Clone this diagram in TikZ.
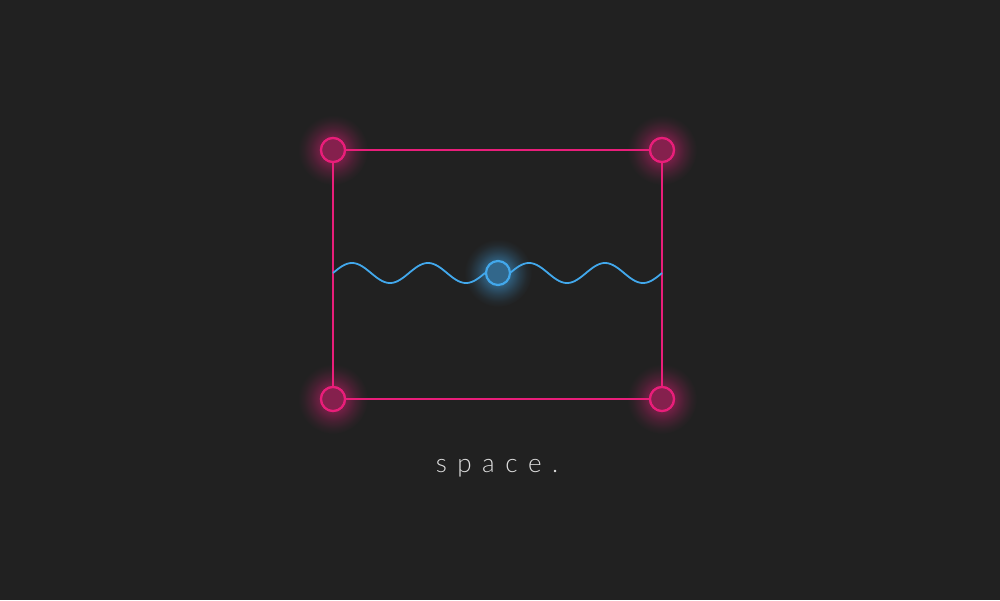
\documentclass[tikz,border=0pt]{standalone}
\usepackage{fontspec}
\newfontfamily\thinfont{Lato Light}
\definecolor{bg}{HTML}{212121}
\definecolor{pk}{HTML}{E91E7A}
\definecolor{bl}{HTML}{42A8EC}
\colorlet{pg0}{pk!55!bg}
\colorlet{pg1}{pk!40!bg}
\colorlet{pg2}{pk!18!bg}
\colorlet{pg3}{pk!6!bg}
\colorlet{bg0}{bl!60!bg}
\colorlet{bg1}{bl!45!bg}
\colorlet{bg2}{bl!20!bg}
\colorlet{bg3}{bl!6!bg}
\pgfdeclareradialshading{pglowsh}{\pgfpoint{0bp}{0bp}}{color(0bp)=(pg0); color(9bp)=(pg1); color(16bp)=(pg2); color(21bp)=(pg3); color(25bp)=(bg); color(50bp)=(bg)}
\pgfdeclareradialshading{bglowsh}{\pgfpoint{0bp}{0bp}}{color(0bp)=(bg0); color(9bp)=(bg1); color(16bp)=(bg2); color(21bp)=(bg3); color(25bp)=(bg); color(50bp)=(bg)}
\tikzset{
  pnode/.style={circle, draw=pk, line width=2.2pt, fill=pk!50!bg, minimum size=24pt, inner sep=0pt},
  bnode/.style={circle, draw=bl, line width=2.2pt, fill=bl!52!bg, minimum size=24pt, inner sep=0pt},
  edge/.style={pk, line width=1.8pt},
  wave/.style={bl, line width=1.8pt},
  pglow/.style={shading=pglowsh},
  bglow/.style={shading=bglowsh}
}
\begin{document}
\begin{tikzpicture}[x=1pt,y=-1pt]
\fill[bg] (0,0) rectangle (1000,600);
\useasboundingbox (0,0) rectangle (1000,600);
% glows
\shade[pglow] (333,150) circle (35);
\shade[pglow] (662,150) circle (35);
\shade[pglow] (333,399) circle (35);
\shade[pglow] (662,399) circle (35);
\shade[bglow] (498,273) circle (34);
% nodes
\node[pnode] (tl) at (333,150) {};
\node[pnode] (tr) at (662,150) {};
\node[pnode] (bl) at (333,399) {};
\node[pnode] (br) at (662,399) {};
% edges
\draw[edge] (tl) -- (tr);
\draw[edge] (tr) -- (br);
\draw[edge] (br) -- (bl);
\draw[edge] (bl) -- (tl);
% wave
\draw[wave, line join=round] plot[domain=333:485, samples=120] (\x, {273-10*sin((\x-333)/76*360)});
\draw[wave, line join=round] plot[domain=510:662, samples=120] (\x, {273-10*sin((\x-510)/76*360)});
\node[bnode] (c) at (498,273) {};
% redraw nodes on top of edges
\node[pnode] at (tl) {};
\node[pnode] at (tr) {};
\node[pnode] at (bl) {};
\node[pnode] at (br) {};
\node[text=white!85!bg, font=\thinfont\fontsize{26}{30}\selectfont, anchor=base] (t) at (497,472)
  {s\hspace{10.5pt}p\hspace{10.5pt}a\hspace{10.5pt}c\hspace{10.5pt}e\hspace{10.5pt}.};
\end{tikzpicture}
\end{document}
